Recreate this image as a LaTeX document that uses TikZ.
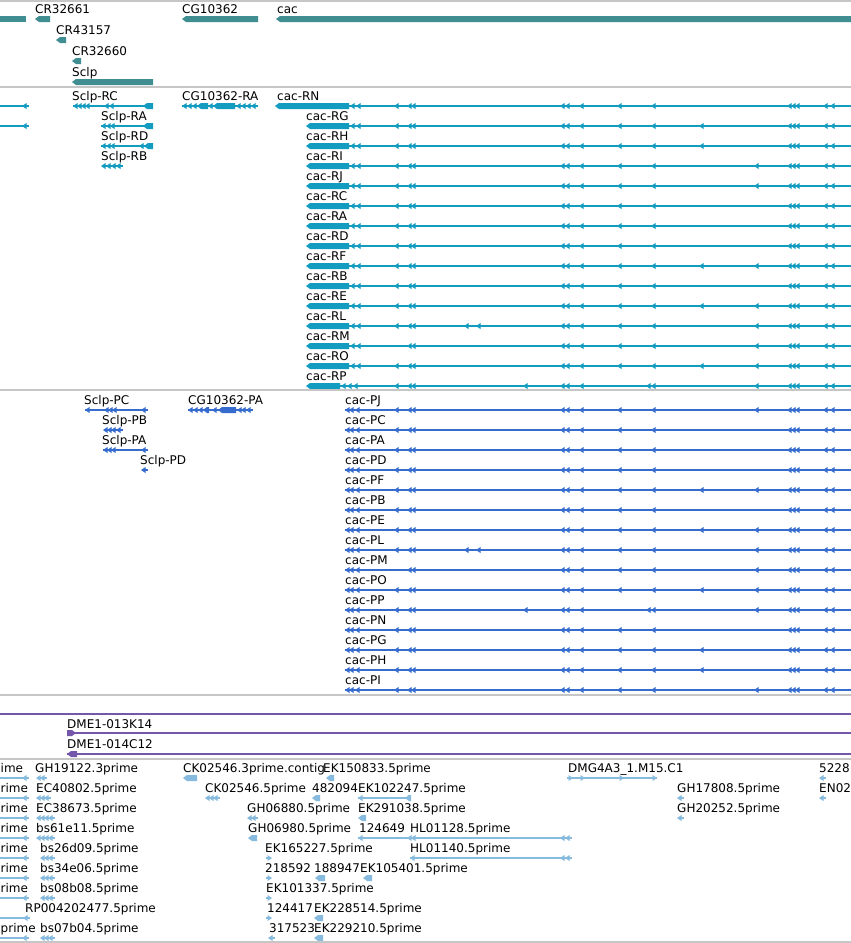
\documentclass[tikz,border=0pt]{standalone}
\usepackage{fontspec}
\setmainfont{DejaVu Sans}
\definecolor{genecol}{RGB}{64,142,146}
\definecolor{rnacol}{RGB}{20,155,192}
\definecolor{protcol}{RGB}{54,108,206}
\definecolor{clonecol}{RGB}{116,86,170}
\definecolor{estcol}{RGB}{134,186,222}
\definecolor{sepcol}{RGB}{198,198,198}
\tikzset{
  lbl/.style={anchor=base west, inner sep=0pt, font=\fontsize{12}{14}\selectfont},
  sep/.style={draw=sepcol, line width=1.2pt},
  track/.style={line width=1.2pt},
}
% small exon pointing left / right: colour, x of tip, y
\newcommand{\exL}[3]{\fill[#1] (#2,#3) -- (#2+4.5,#3-3) -- (#2+4.5,#3+3) -- cycle;
  \fill[#1] (#2+4,#3-1.4) rectangle (#2+6.5,#3+1.4);}
\newcommand{\exR}[3]{\fill[#1] (#2,#3) -- (#2-4.5,#3-3) -- (#2-4.5,#3+3) -- cycle;
  \fill[#1] (#2-6.5,#3-1.4) rectangle (#2-4,#3+1.4);}
% thick block: colour, x1, x2, y
\newcommand{\blk}[4]{\fill[#1] (#2,#4) -- (#2+4,#4-3) -- (#3,#4-3) -- (#3,#4+3) -- (#2+4,#4+3) -- cycle;}
\newcommand{\blkR}[4]{\fill[#1] (#2,#4-3) -- (#3-4,#4-3) -- (#3,#4) -- (#3-4,#4+3) -- (#2,#4+3) -- cycle;}
\begin{document}
\begin{tikzpicture}[x=1pt,y=-1pt]
\useasboundingbox (0,0) rectangle (851,943);
\fill[white] (0,0) rectangle (851,943);
\clip (0,0) rectangle (851,943);

% genes
\draw[sep] (0,1) -- (851,1);
\fill[genecol] (0,16) rectangle (26,22);
\blk{genecol}{35}{50}{19}
\blk{genecol}{182}{258}{19}
\blk{genecol}{276}{851}{19}
\blk{genecol}{56}{66}{40}
\blk{genecol}{72}{81}{61}
\blk{genecol}{72}{153}{82}
\node[lbl] (g1) at (35,13) {CR32661};
\node[lbl] (g2) at (56,34) {CR43157};
\node[lbl] (g3) at (72,55) {CR32660};
\node[lbl] (g4) at (72,76) {Sclp};
\node[lbl] (g5) at (182,13) {CG10362};
\node[lbl] (g6) at (277,13) {cac};
\draw[sep] (0,87) -- (851,87);

% transcripts
\draw[track,rnacol] (0,106) -- (27,106); \exL{rnacol}{22}{106}
\draw[track,rnacol] (0,126) -- (27,126); \exL{rnacol}{22}{126}
\node[lbl] (sRC) at (72,100) {Sclp-RC};
\draw[track,rnacol] (73,106) -- (150,106);
\foreach \xx in {73,77,81,85,104,109} {\exL{rnacol}{\xx}{106}}
\blk{rnacol}{143}{153}{106}
\node[lbl] (sRA) at (101,120) {Sclp-RA};
\draw[track,rnacol] (101,126) -- (150,126);
\foreach \xx in {101,106,110} {\exL{rnacol}{\xx}{126}}
\blk{rnacol}{143}{153}{126}
\node[lbl] (sRD) at (101,140) {Sclp-RD};
\draw[track,rnacol] (101,146) -- (150,146);
\foreach \xx in {101,106,110,139} {\exL{rnacol}{\xx}{146}}
\blk{rnacol}{144}{153}{146}
\node[lbl] (sRB) at (101,160) {Sclp-RB};
\foreach \xx in {101,106,111,116} {\exL{rnacol}{\xx}{166}}
\node[lbl] (cgRA) at (182,100) {CG10362-RA};
\draw[track,rnacol] (182,106) -- (258,106);
\foreach \xx in {182,187,192,208,236,241,246,251} {\exL{rnacol}{\xx}{106}}
\blk{rnacol}{197}{208}{106}
\blk{rnacol}{213}{235}{106}
\foreach \nm/\lx/\bx/\be/\exs [count=\i from 0, evaluate=\i as \y using 106+20*\i] in
  {RN/277/275/349/{350,356,394,617,651},
   RG/306/306/349/{350,356,394,617,651,699},
   RH/306/306/349/{350,356,394,617,651,699},
   RI/306/306/349/{350,356,394,617,651,754},
   RJ/306/306/349/{350,356,394,617,651,754},
   RC/306/306/349/{350,356,394,617,651},
   RA/306/306/349/{350,356,394,617,651},
   RD/306/306/349/{350,356,394,617,651},
   RF/306/306/349/{350,356,394,617,651,699,754},
   RB/306/306/349/{350,356,394,617,651},
   RE/306/306/349/{350,356,394,617,651,699,754},
   RL/306/306/349/{350,356,394,464,476,617,651,754},
   RM/306/306/349/{350,356,617,651,754},
   RO/306/306/349/{350,356,394,617,651,699,754},
   RP/306/306/340/{341,347,353,394,523,646,651,754}} {
  \node[lbl] (cac-\nm) at (\lx,\y-6) {cac-\nm};
  \draw[track,rnacol] (\be,\y) -- (851,\y);
  \blk{rnacol}{\bx}{\be}{\y}
  \foreach \xx in {407,411,560,565,579,787,791,795,823,830} {\exL{rnacol}{\xx}{\y}}
  \foreach \xx in \exs {\exL{rnacol}{\xx}{\y}}
}
\draw[sep] (0,390) -- (851,390);

% proteins
\node[lbl] (sPC) at (84,404) {Sclp-PC};
\draw[track,protcol] (85,410) -- (146,410);
\foreach \xx in {85,104,108,112,141} {\exL{protcol}{\xx}{410}}
\node[lbl] (sPB) at (102,424) {Sclp-PB};
\foreach \xx in {103,107,111,116} {\exL{protcol}{\xx}{430}}
\node[lbl] (sPA) at (102,444) {Sclp-PA};
\draw[track,protcol] (103,450) -- (146,450);
\foreach \xx in {103,107,111,141} {\exL{protcol}{\xx}{450}}
\node[lbl] (sPD) at (140,464) {Sclp-PD};
\exL{protcol}{141}{470}
\node[lbl] (cgPA) at (188,404) {CG10362-PA};
\draw[track,protcol] (188,410) -- (252,410);
\foreach \xx in {188,193,198,212,237,241,246} {\exL{protcol}{\xx}{410}}
\blk{protcol}{203}{209}{410}
\blk{protcol}{218}{236}{410}
\foreach \nm/\exs [count=\i from 0, evaluate=\i as \y using 410+20*\i] in
  {PJ/{394,617,651,754}, PC/{394,617,651}, PA/{394,617,651}, PD/{394,617,651},
   PF/{394,617,651,699,754}, PB/{394,617,651}, PE/{394,617,651,699,754},
   PL/{394,464,476,617,651,754}, PM/{617,651,754}, PO/{394,617,651,699,754},
   PP/{394,523,646,651,754}, PN/{394,617,651}, PG/{394,617,651,699},
   PH/{394,617,651,699}, PI/{394,617,651,754}} {
  \node[lbl] (cac-\nm) at (345,\y-6) {cac-\nm};
  \draw[track,protcol] (345,\y) -- (851,\y);
  \foreach \xx in {345,349,355,407,411,560,565,579,787,791,795,823,830} {\exL{protcol}{\xx}{\y}}
  \foreach \xx in \exs {\exL{protcol}{\xx}{\y}}
}
\draw[sep] (0,695) -- (851,695);

% clones
\draw[track,clonecol] (0,714) -- (851,714);
\node[lbl] (cl1) at (67,728) {DME1-013K14};
\draw[track,clonecol] (67,733) -- (851,733);
\blkR{clonecol}{67}{76}{733}
\node[lbl] (cl2) at (67,748) {DME1-014C12};
\draw[track,clonecol] (67,754) -- (851,754);
\blk{clonecol}{67}{77}{754}
\draw[sep] (0,759) -- (851,759);

% ESTs
\foreach \y in {778,798,818,838,858,878,898,938} {
  \draw[track,estcol] (0,\y) -- (27,\y); \exL{estcol}{22}{\y}}
\draw[track,estcol] (0,918) -- (28,918); \exL{estcol}{23}{918}
% row 1
\node[lbl] (e1a) at (0.5,772) {ime};
\node[lbl] (e1b) at (35,772) {GH19122.3prime};
\foreach \xx in {36,40} {\exL{estcol}{\xx}{778}}
\node[lbl] (e1c) at (183,772) {CK02546.3prime.contig};
\blk{estcol}{183}{197}{778}
\node[lbl] (e1d) at (323,772) {EK150833.5prime};
\blk{estcol}{326}{334}{778}
\node[lbl] (e1e) at (568,772) {DMG4A3\_1.M15.C1};
\draw[track,estcol] (568,778) -- (657,778);
\foreach \xx in {573,585,624,657} {\exR{estcol}{\xx}{778}}
\node[lbl] (e1f) at (819,772) {5228};
\exL{estcol}{819}{778}
% row 2
\node[lbl] (e2a) at (0.5,792) {rime};
\node[lbl] (e2b) at (36,792) {EC40802.5prime};
\foreach \xx in {36,40,44} {\exL{estcol}{\xx}{798}}
\node[lbl] (e2c) at (205,792) {CK02546.5prime};
\foreach \xx in {205,209,213} {\exL{estcol}{\xx}{798}}
\node[lbl] (e2d) at (312,792) {482094};
\blk{estcol}{312}{320}{798}
\node[lbl] (e2e) at (358,792) {EK102247.5prime};
\draw[track,estcol] (358,798) -- (411,798);
\exL{estcol}{358}{798}
\blk{estcol}{405}{411}{798}
\node[lbl] (e2f) at (677,792) {GH17808.5prime};
\exL{estcol}{677}{798}
\node[lbl] (e2g) at (819,792) {EN02};
\exL{estcol}{819}{798}
% row 3
\node[lbl] (e3a) at (0.5,812) {rime};
\node[lbl] (e3b) at (36,812) {EC38673.5prime};
\foreach \xx in {36,40,44,48} {\exL{estcol}{\xx}{818}}
\node[lbl] (e3c) at (247,812) {GH06880.5prime};
\foreach \xx in {247,251} {\exL{estcol}{\xx}{818}}
\node[lbl] (e3d) at (358,812) {EK291038.5prime};
\blk{estcol}{358}{366}{818}
\node[lbl] (e3e) at (677,812) {GH20252.5prime};
\exL{estcol}{677}{818}
% row 4
\node[lbl] (e4a) at (0.5,832) {rime};
\node[lbl] (e4b) at (36,832) {bs61e11.5prime};
\foreach \xx in {36,40,44,48} {\exL{estcol}{\xx}{838}}
\node[lbl] (e4c) at (248,832) {GH06980.5prime};
\blk{estcol}{248}{257}{838}
\node[lbl] (e4d) at (359,832) {124649};
\node[lbl] (e4e) at (410,832) {HL01128.5prime};
\draw[track,estcol] (358,838) -- (571,838);
\foreach \xx in {358,407,411,560,565} {\exL{estcol}{\xx}{838}}
% row 5
\node[lbl] (e5a) at (0.5,852) {rime};
\node[lbl] (e5b) at (40,852) {bs26d09.5prime};
\foreach \xx in {40,44,48} {\exL{estcol}{\xx}{858}}
\node[lbl] (e5c) at (265,852) {EK165227.5prime};
\exR{estcol}{272}{858}
\node[lbl] (e5d) at (410,852) {HL01140.5prime};
\draw[track,estcol] (410,858) -- (571,858);
\foreach \xx in {410,560,565} {\exL{estcol}{\xx}{858}}
% row 6
\node[lbl] (e6a) at (0.5,872) {rime};
\node[lbl] (e6b) at (40,872) {bs34e06.5prime};
\foreach \xx in {40,44,48} {\exL{estcol}{\xx}{878}}
\node[lbl] (e6c) at (265,872) {218592};
\exR{estcol}{272}{878}
\node[lbl] (e6d) at (314,872) {188947};
\blk{estcol}{315}{325}{878}
\node[lbl] (e6e) at (360,872) {EK105401.5prime};
\blk{estcol}{363}{372}{878}
% row 7
\node[lbl] (e7a) at (0.5,892) {rime};
\node[lbl] (e7b) at (40,892) {bs08b08.5prime};
\foreach \xx in {40,44,48} {\exL{estcol}{\xx}{898}}
\node[lbl] (e7c) at (266,892) {EK101337.5prime};
\exR{estcol}{272}{898}
% row 8
\node[lbl] (e8a) at (25,912) {RP004202477.5prime};
\node[lbl] (e8b) at (267,912) {124417};
\exR{estcol}{272}{918}
\node[lbl] (e8c) at (314,912) {EK228514.5prime};
\blk{estcol}{314}{323}{918}
% row 9
\node[lbl] (e9a) at (0.5,932) {prime};
\node[lbl] (e9b) at (40,932) {bs07b04.5prime};
\foreach \xx in {40,44,48} {\exL{estcol}{\xx}{938}}
\node[lbl] (e9c) at (269,932) {317523};
\exL{estcol}{268}{938}
\node[lbl] (e9d) at (314,932) {EK229210.5prime};
\blk{estcol}{314}{323}{938}
\draw[sep] (0,942) -- (851,942);
\end{tikzpicture}
\end{document}
